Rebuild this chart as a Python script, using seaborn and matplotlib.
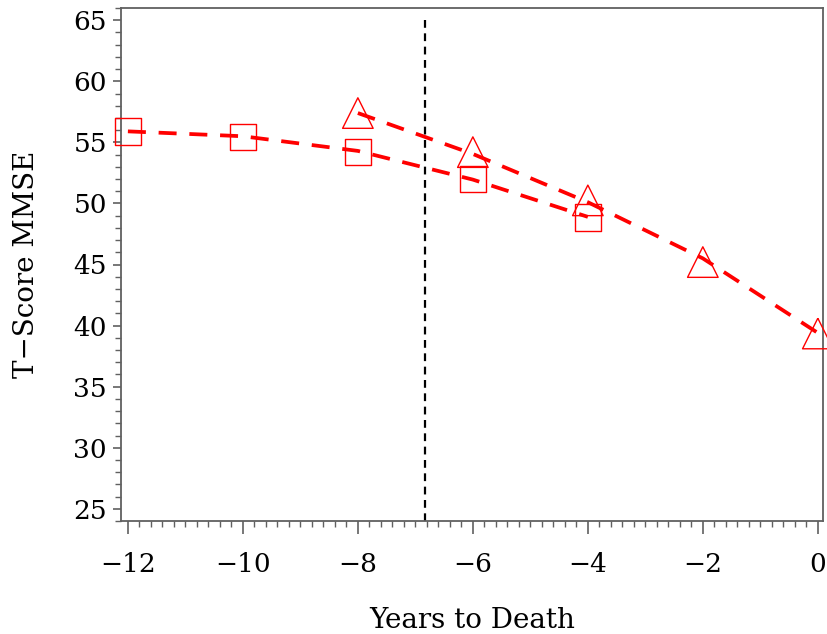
import numpy as np
import pandas as pd
import matplotlib
matplotlib.use("Agg")
import matplotlib.pyplot as plt
import seaborn as sns
from matplotlib.ticker import MultipleLocator

# Data
sq_years = [-12, -10, -8, -6, -4]
sq_obs = [55.9, 55.45, 54.2, 52.0, 48.85]
sq_fit = [55.9, 55.5, 54.3, 51.95, 48.9]

tri_years = [-8, -6, -4, -2, 0]
tri_obs = [57.4, 54.2, 50.25, 45.2, 39.35]
tri_fit = [57.4, 54.05, 50.1, 45.5, 39.4]

cut_year = -6.84

sns.set_theme(style="ticks")
plt.rcParams['font.family'] = ['DejaVu Serif']

obs = pd.concat([
    pd.DataFrame({"year": sq_years, "score": sq_obs, "grp": "sq"}),
    pd.DataFrame({"year": tri_years, "score": tri_obs, "grp": "tri"}),
])
fit = pd.concat([
    pd.DataFrame({"year": sq_years, "score": sq_fit, "grp": "sq"}),
    pd.DataFrame({"year": tri_years, "score": tri_fit, "grp": "tri"}),
])

fig = plt.figure(figsize=(8.28, 6.34), dpi=100)
ax = fig.add_axes([121/828, 1-521/634, (823-121)/828, (521-8)/634])

sns.lineplot(data=fit, x="year", y="score", units="grp", estimator=None,
             color="red", linewidth=2.7, ax=ax, legend=False)
for ln in ax.get_lines():
    ln.set_dashes((4.8, 3.4))

for grp, mk, sz in [("sq", "s", 19), ("tri", "^", 22)]:
    sub = obs[obs["grp"] == grp]
    sns.scatterplot(data=sub, x="year", y="score", marker=mk, s=sz**2,
                    facecolors="none", edgecolor="red", linewidth=1.0,
                    ax=ax, legend=False, zorder=3)
for coll in ax.collections:
    coll.set_clip_on(False)

ax.plot([cut_year, cut_year], [65, 23.6], color="black", linewidth=1.6,
        dashes=(3.5, 2.5), clip_on=False)

ax.set_xlim(-12.12, 0.09)
ax.set_ylim(24.0, 66.0)
ax.xaxis.set_major_locator(MultipleLocator(2))
ax.xaxis.set_minor_locator(MultipleLocator(0.2))
ax.yaxis.set_major_locator(MultipleLocator(5))
ax.yaxis.set_minor_locator(MultipleLocator(1))
ax.set_yticks(np.arange(25, 66, 5))

for sp in ax.spines.values():
    sp.set_color("#606060")
    sp.set_linewidth(1.3)
    sp.set_visible(True)

ax.tick_params(axis="x", which="major", length=9, width=1.2, color="#606060",
               pad=13, labelsize=19, labelcolor="black")
ax.tick_params(axis="x", which="minor", length=4, width=1.0, color="#606060")
ax.tick_params(axis="y", which="major", length=6, width=1.2, color="#606060",
               pad=4, labelsize=19, labelcolor="black")
ax.tick_params(axis="y", which="minor", length=4, width=1.0, color="#606060")

ax.set_xlabel("Years to Death", fontsize=20, labelpad=22, color="black")
ax.set_ylabel("T\u2212Score MMSE", fontsize=20, labelpad=24, color="black")

fig.savefig("out.png", dpi=100)
